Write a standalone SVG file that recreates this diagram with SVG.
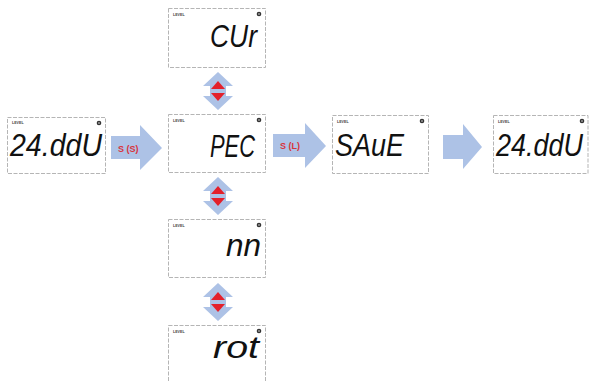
<svg xmlns="http://www.w3.org/2000/svg" width="589" height="382" viewBox="0 0 589 382">
<style>
.box{fill:#fff;stroke:#b5b5b5;stroke-width:1;stroke-dasharray:4 1.5}
.seg{font-family:"Liberation Sans","DejaVu Sans",sans-serif;font-style:italic;font-size:32px;fill:#111}
.lvl{font-family:"Liberation Sans",sans-serif;font-size:3.6px;font-weight:bold;fill:#444}
.arr{fill:#adc2e6}
.red{fill:#e3202b}
.lab{font-family:"Liberation Sans",sans-serif;font-size:9px;font-weight:bold;fill:#d9333b}
</style>
<defs>
<g id="gear"><circle r="2.3" fill="#333"/><circle r="0.8" fill="#ddd"/></g>
<g id="dbl">
<polygon class="arr" points="-15,14 0,0 15,14 8,14 8,24 15,24 0,38 -15,24 -8,24 -8,14"/>
<polygon class="red" points="-7,17 0,9 7,17"/>
<polygon class="red" points="-7,21 7,21 0,29"/>
</g>
</defs>
<g id="connectors">
<g id="a-s-short">
<polygon class="arr" points="111,136 140,136 140,125 162,148 140,170 140,159 111,159"/>
<text class="lab" x="118" y="152">S (S)</text>
</g>
<g id="a-s-long">
<polygon class="arr" points="273,134 305,134 305,123 326,146 305,168 305,157 273,157"/>
<text class="lab" x="280" y="149">S (L)</text>
</g>
<polygon id="a-next" class="arr" points="443,135 463,135 463,124 482,147 463,169 463,159 443,159"/>
<use id="d1" href="#dbl" x="218" y="72"/>
<use id="d2" href="#dbl" x="218" y="177"/>
<use id="d3" href="#dbl" x="218" y="283"/>
</g>
<g id="n-start">
<rect class="box" x="7.5" y="117.5" width="98" height="56"/>
<text class="lvl" x="12" y="124">LEVEL</text>
<use href="#gear" x="99" y="123"/>
<text class="seg" x="10" y="156" textLength="92" lengthAdjust="spacingAndGlyphs">24.ddU</text>
</g>
<g id="n-cur">
<rect class="box" x="168.5" y="8.5" width="97" height="59"/>
<text class="lvl" x="173" y="16">LEVEL</text>
<use href="#gear" x="259" y="14"/>
<text class="seg" x="210" y="47" textLength="47" lengthAdjust="spacingAndGlyphs">CUr</text>
</g>
<g id="n-pec">
<rect class="box" x="168.5" y="114.5" width="97" height="58"/>
<text class="lvl" x="173" y="122">LEVEL</text>
<use href="#gear" x="259" y="120"/>
<text class="seg" x="210" y="157" textLength="45" lengthAdjust="spacingAndGlyphs">PEC</text>
</g>
<g id="n-save">
<rect class="box" x="332.5" y="115.5" width="96" height="58"/>
<text class="lvl" x="337" y="123">LEVEL</text>
<use href="#gear" x="422" y="121"/>
<text class="seg" x="335" y="156" textLength="69" lengthAdjust="spacingAndGlyphs">SAuE</text>
</g>
<g id="n-end">
<rect class="box" x="493.5" y="115.5" width="94.5" height="58"/>
<text class="lvl" x="498" y="123">LEVEL</text>
<use href="#gear" x="582" y="121"/>
<text class="seg" style="font-size:27px" transform="translate(496,156) scale(1,1.18)" x="0" y="0">24.ddU</text>
</g>
<g id="n-nn">
<rect class="box" x="168.5" y="219.5" width="97" height="58"/>
<text class="lvl" x="173" y="227">LEVEL</text>
<use href="#gear" x="259" y="225"/>
<text class="seg" x="226" y="256" textLength="35" lengthAdjust="spacingAndGlyphs">nn</text>
</g>
<g id="n-rot">
<rect class="box" x="168.5" y="325.5" width="97" height="60"/>
<text class="lvl" x="173" y="333">LEVEL</text>
<use href="#gear" x="259" y="331"/>
<text class="seg" x="213" y="358" textLength="46" lengthAdjust="spacingAndGlyphs">rot</text>
</g>
</svg>
